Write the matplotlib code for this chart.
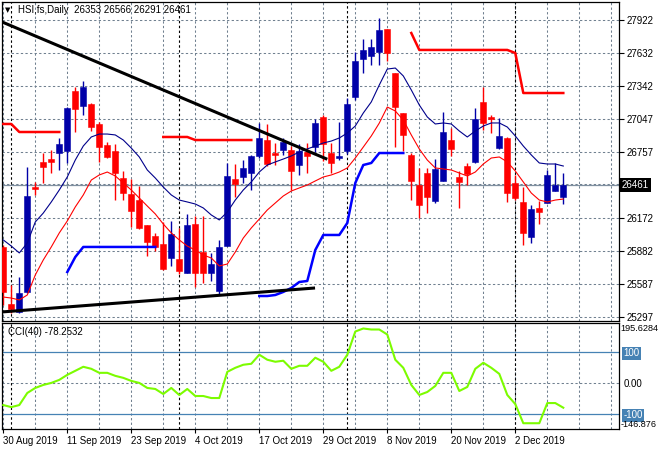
import matplotlib
matplotlib.use('Agg')
import matplotlib.pyplot as plt
import numpy as np

# HSI futures, daily bars (bar index 0 = 30 Aug 2019)
date_ticks = [0, 8, 16, 24, 32, 40, 48, 56, 64]
date_labels = ['30 Aug 2019', '11 Sep 2019', '23 Sep 2019', '4 Oct 2019', '17 Oct 2019',
               '29 Oct 2019', '8 Nov 2019', '20 Nov 2019', '2 Dec 2019']
month_starts = [1, 22, 43, 64]   # 2 Sep, 2 Oct, 1 Nov, 2 Dec

opens = [25914, 25409, 25339, 25516, 26444, 26666, 26692, 26745, 26763, 27294,
         27161, 27179, 27002, 26816, 26763, 26524, 26383, 26329, 26108, 26011,
         25940, 25816, 25807, 25684, 26117, 25869, 25684, 25524, 25922, 26515,
         26533, 26568, 26719, 26860, 26745, 26772, 26772, 26639, 26754, 26798,
         27064, 26745, 26701, 26763, 27241, 27577, 27603, 27639, 27842, 27453,
         27099, 26728, 26462, 26568, 26321, 26498, 26860, 26533, 26630, 26666,
         27197, 27064, 26789, 26878, 26480, 26312, 26002, 26259, 26303, 26409,
         26353]
highs = [25931, 25577, 25648, 26621, 26489, 26745, 26772, 26878, 27152, 27329,
         27382, 27188, 27020, 26843, 26825, 26586, 26515, 26453, 26108, 26038,
         26135, 26144, 26082, 26206, 26188, 26188, 25861, 25976, 26657, 26648,
         26683, 26728, 27011, 27002, 26834, 26878, 26807, 26825, 26834, 27046,
         27082, 26834, 27020, 27232, 27639, 27754, 27754, 27940, 27842, 27453,
         27099, 26745, 26613, 26613, 26692, 27108, 26966, 26586, 26657, 27143,
         27329, 27082, 27055, 26887, 26551, 26444, 26285, 26321, 26595, 26657,
         26566]
lows = [25400, 25330, 25330, 25507, 26374, 26480, 26568, 26595, 26657, 26931,
        27082, 26940, 26666, 26701, 26329, 26329, 26091, 26073, 25834, 25878,
        25710, 25746, 25675, 25684, 25560, 25595, 25613, 25489, 25922, 26356,
        26480, 26418, 26701, 26630, 26639, 26728, 26418, 26551, 26568, 26754,
        26675, 26568, 26683, 26736, 27214, 27453, 27524, 27524, 27559, 26798,
        26763, 26329, 26170, 26214, 26303, 26498, 26719, 26259, 26462, 26657,
        26949, 26922, 26781, 26312, 26329, 25931, 25949, 26117, 26303, 26409,
        26291]
closes = [25516, 25365, 25507, 26365, 26427, 26621, 26666, 26825, 27143, 27135,
          27329, 26975, 26798, 26710, 26568, 26391, 26232, 26082, 25958, 25914,
          25719, 26029, 25701, 26108, 25684, 25684, 25763, 25914, 26542, 26471,
          26613, 26719, 26878, 26648, 26728, 26843, 26586, 26763, 26719, 27011,
          26825, 26657, 26719, 27179, 27559, 27657, 27683, 27834, 27630, 27152,
          26905, 26498, 26285, 26356, 26604, 26931, 26781, 26489, 26559, 27046,
          27011, 27046, 26896, 26391, 26347, 26038, 26250, 26223, 26551, 26462,
          26461]

ma_navy = [25976, 25922, 25861, 25949, 26135, 26214, 26312, 26418, 26533, 26683,
           26807, 26887, 26913, 26913, 26905, 26860, 26789, 26710, 26595, 26524,
           26444, 26374, 26329, 26312, 26294, 26259, 26197, 26153, 26223, 26329,
           26418, 26489, 26577, 26639, 26666, 26692, 26719, 26754, 26781, 26807,
           26834, 26851, 26878, 26922, 26984, 27099, 27197, 27347, 27488, 27497,
           27427, 27303, 27170, 27064, 27002, 27011, 27002, 26940, 26887, 26940,
           26984, 27011, 27011, 26975, 26896, 26807, 26728, 26657, 26648, 26648,
           26630]
ma_red = [25471, 25462, 25445, 25489, 25666, 25799, 25914, 26038, 26144, 26268,
          26374, 26506, 26551, 26577, 26542, 26480, 26418, 26347, 26276, 26206,
          26117, 26038, 25976, 25922, 25887, 25843, 25816, 25746, 25763, 25869,
          25993, 26082, 26161, 26241, 26303, 26365, 26409, 26436, 26462, 26498,
          26533, 26551, 26577, 26613, 26701, 26798, 26896, 27010, 27152, 27117,
          27037, 26905, 26781, 26683, 26613, 26604, 26595, 26568, 26542, 26577,
          26648, 26701, 26710, 26666, 26586, 26489, 26391, 26329, 26312, 26329,
          26338]

N = None
resist = [27002, 27002, 26931, 26931, 26931, 26931, 26931, 26931, N, N,
          N, N, N, N, N, N, N, N, N, N,
          26887, 26887, 26887, 26887, 26860, 26860, 26860, 26860, 26860, 26860,
          26860, 26860, N, N, N, N, N, N, N, N,
          N, N, N, N, N, N, N, N, N, N,
          N, 27807, 27657, 27657, 27657, 27657, 27657, 27657, 27657, 27657,
          27657, 27657, 27657, 27657, 27630, 27276, 27276, 27276, 27276, 27276,
          27276]
support = [N, N, N, N, N, N, N, N, 25692, 25825,
           25914, 25914, 25914, 25914, 25914, 25914, 25914, 25914, 25914, 25914,
           N, N, N, N, N, N, N, N, N, N,
           N, N, 25480, 25480, 25489, 25516, 25551, 25604, 25613, 25887,
           26020, 26020, 26020, 26126, 26480, 26639, 26657, 26745, 26745, 26745,
           26745, N, N, N, N, N, N, N, N, N,
           N, N, N, N, N, N, N, N, N, N,
           N]

cci = [-69.8, -76.3, -69.8, -30.8, -14.6, -4.9, 1.6, 11.4, 27.6, 40.6,
       53.6, 47.1, 34.1, 34.1, 24.4, 17.9, 8.1, 1.6, -14.6, -17.9,
       -34.1, -14.6, -37.3, -17.9, -40.6, -40.6, -47.1, -47.1, 37.3, 50.3,
       60.1, 63.3, 92.5, 76.3, 69.8, 73.1, 47.1, 56.8, 56.8, 82.8,
       69.8, 40.6, 53.6, 92.5, 167.2, 177.0, 173.7, 173.7, 157.5, 76.3,
       50.3, -4.9, -37.3, -27.6, -8.1, 34.1, 34.1, -24.4, -11.4, 47.1,
       66.6, 50.3, 30.8, -37.3, -66.6, -128.3, -128.3, -128.3, -63.3, -63.3,
       -78.2532]

# trend lines drawn on the chart: (bar, price) end points
trend_down = [(-0.16, 27905), (40.5, 26690)]
trend_up = [(-0.16, 25339), (38.97, 25551)]

price_ticks = [25297, 25587, 25882, 26172, 26467, 26757, 27047, 27342, 27632, 27922]
price_labels = ['25297', '25587', '25882', '26172', '', '26757', '27047', '27342', '27632', '27922']
last_price = 26461
cci_max, cci_min = 195.6284, -146.876

BULL = '#0000a8'
BEAR = '#ff0000'
GRID = '#708090'
STEEL = '#4682b4'
FS = 7

plt.rcParams['font.family'] = ['Liberation Sans', 'DejaVu Sans']

W, H = 660, 450
fig = plt.figure(figsize=(W / 100, H / 100), dpi=100)


def frac(l, t, r, b):
    return [l / W, 1 - b / H, (r - l) / W, (b - t) / H]


ax = fig.add_axes(frac(2, 2, 619.3, 321))
ax2 = fig.add_axes(frac(2, 322.7, 619.3, 429))

x = np.arange(len(closes))
o = np.array(opens, float)
c = np.array(closes, float)
hi = np.array(highs, float)
lo = np.array(lows, float)
up = c >= o
cols = np.where(up, BULL, BEAR)

xmin, xmax = -0.16, 77.0
for a in (ax, ax2):
    a.set_xlim(xmin, xmax)
    for gx in range(0, 78, 4):
        a.axvline(gx, color=GRID, lw=0.75, ls=(0, (2.2, 2.2)), zorder=0)
    for mx in month_starts:
        a.axvline(mx, color='black', lw=0.8, ls=(0, (2.2, 2.2)), zorder=0.5)
    for s in a.spines.values():
        s.set_color('black')
        s.set_linewidth(0.9)

ax.set_ylim(25258.9, 28081.2)
for p in price_ticks:
    ax.axhline(p, color=GRID, lw=0.75, ls=(0, (2.2, 2.2)), zorder=0)
ax.axhline(last_price, color='#8090a0', lw=0.9, zorder=0.6)

# candles
ax.vlines(x, lo, hi, colors=cols, lw=1.0, zorder=2)
body_h = np.maximum(np.abs(c - o), 6)
ax.bar(x, body_h, bottom=np.minimum(o, c), width=0.7, color=cols,
       edgecolor=cols, linewidth=0.4, zorder=3)

ax.plot(x, ma_navy, color='#00008b', lw=0.8, zorder=4)
ax.plot(x, ma_red, color='#ff0000', lw=0.8, zorder=4)
ax.plot(x, np.array(resist, float), color='#ff0000', lw=1.8, zorder=4)
ax.plot(x, np.array(support, float), color='#0000ff', lw=1.8, zorder=4)
for tl in (trend_down, trend_up):
    ax.plot([tl[0][0], tl[1][0]], [tl[0][1], tl[1][1]], color='black', lw=2.2,
            solid_capstyle='butt', zorder=5)

ax.set_xticks([])
ax.yaxis.tick_right()
ax.set_yticks(price_ticks)
ax.set_yticklabels(price_labels)
ax.tick_params(axis='y', length=3.5, width=0.8, pad=2, labelsize=FS, colors='black')

ax.text(1.004, last_price, str(last_price), transform=ax.get_yaxis_transform(),
        ha='left', va='center', fontsize=FS, color='white', zorder=10,
        bbox=dict(facecolor='black', edgecolor='none', pad=1.5))

fig.text(5 / W, 1 - 10 / H, '\u25bc', fontsize=5, va='center', ha='left',
         family='DejaVu Sans')
fig.text(18 / W, 1 - 10 / H, 'HSI,fs,Daily  26353 26566 26291 26461',
         fontsize=FS, va='center', ha='left')

# CCI panel
ax2.set_ylim(cci_min, cci_max)
ax2.axhline(0, color=GRID, lw=0.75, ls=(0, (2.2, 2.2)), zorder=0)
ax2.axhline(100, color=STEEL, lw=0.9, zorder=1)
ax2.axhline(-100, color=STEEL, lw=0.9, zorder=1)
ax2.plot(x, cci, color='#7cfc00', lw=1.5, zorder=3)

ax2.yaxis.tick_right()
ax2.set_yticks([100, 0, -100])
ax2.set_yticklabels(['100', '0.00', '-100'])
ax2.tick_params(axis='y', length=0, pad=3, labelsize=FS, colors='black')
for lbl in ax2.get_yticklabels():
    if lbl.get_text() != '0.00':
        lbl.set_color('white')
        lbl.set_bbox(dict(facecolor=STEEL, edgecolor='none', pad=1.0))
ax2.text(1.002, 0.99, '%.4f' % cci_max, transform=ax2.transAxes, ha='left', va='top',
         fontsize=6.6)
ax2.text(1.002, 0.0, '%.3f' % cci_min, transform=ax2.transAxes, ha='left', va='bottom',
         fontsize=6.6)
ax2.text(6 / 617, 0.915, 'CCI(40) %.4f' % cci[-1], transform=ax2.transAxes,
         ha='left', va='center', fontsize=FS)

ax2.set_xticks(date_ticks)
ax2.set_xticklabels(date_labels)
ax2.tick_params(axis='x', length=3, width=0.8, pad=2, labelsize=FS)
for lbl in ax2.get_xticklabels():
    lbl.set_ha('left')

fig.savefig('out.png', dpi=100, facecolor='white')
